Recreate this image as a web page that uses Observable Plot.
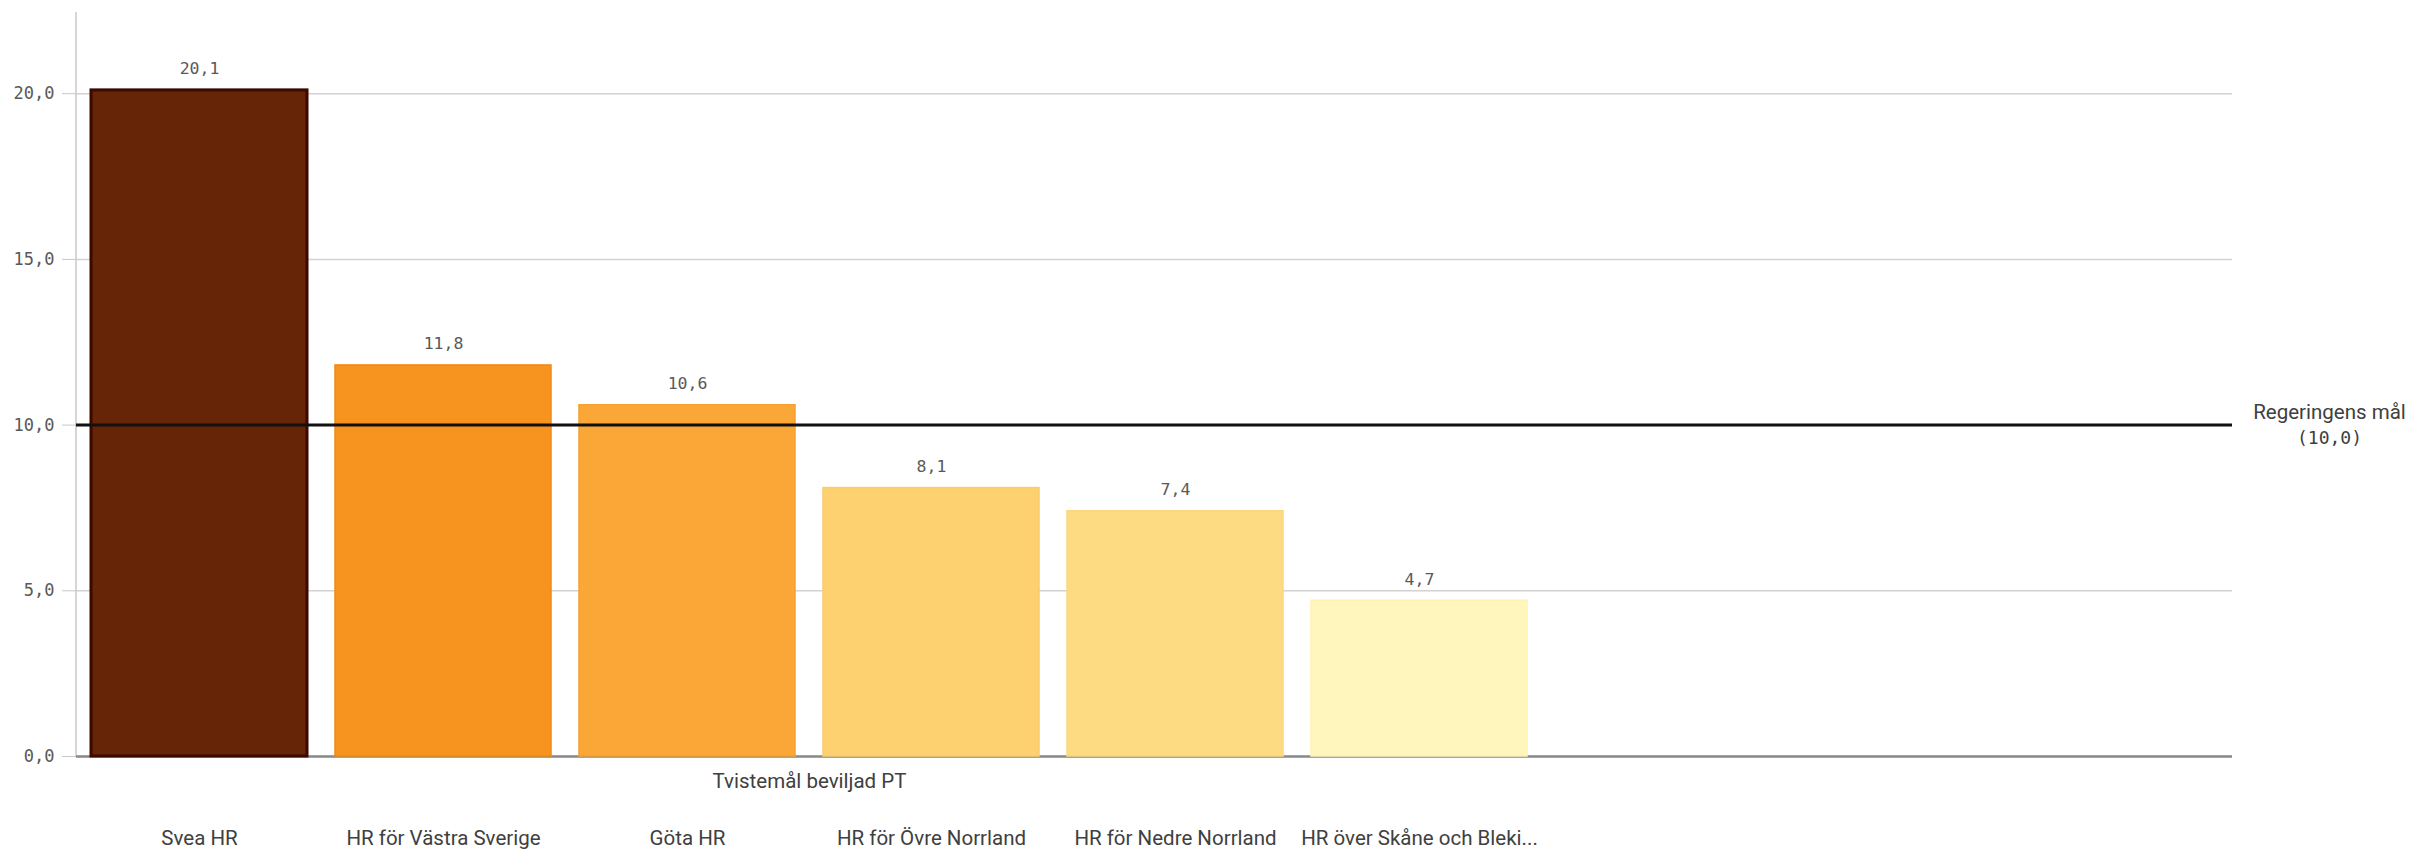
<!DOCTYPE html>
<html>
<head>
<meta charset="utf-8">
<script src="https://cdn.jsdelivr.net/npm/d3@7"></script>
<script src="https://cdn.jsdelivr.net/npm/@observablehq/plot@0.6"></script>
<style>
  html, body { margin: 0; padding: 0; background: #fff; }
  #chart svg { display: block; }
</style>
</head>
<body>
<div id="chart"></div>
<script>
// ---- data ----
const categories = ["Svea HR", "HR för Västra Sverige", "Göta HR", "HR för Övre Norrland", "HR för Nedre Norrland", "HR över Skåne och Bleki..."];
const values = [20.1, 11.8, 10.6, 8.1, 7.4, 4.7];
const fills = ["#662506", "#f7931f", "#fba737", "#fdd070", "#fddb83", "#fff6bd"];
const strokes = ["#3b0900", "#f08a16", "#f6a02d", "#fbcb68", "#fbd67c", "#fff2b3"];
const yTicks = [0, 5, 10, 15, 20];
const goal = 10;
const goalLabel = "Regeringens mål";
const dimensionLabel = "Tvistemål beviljad PT";

// ---- layout ----
const W = 2410, H = 852;
const mL = 76, mR = 178, mT = 12, mB = 96;
const xRange = [77, 1541];

const loc = d3.formatLocale({decimal: ",", thousands: " ", grouping: [3], currency: ["", " kr"]});
const f1 = loc.format(".1f");

const data = categories.map((c, i) => ({cat: c, value: values[i], fill: fills[i], stroke: strokes[i], sw: i === 0 ? 3 : 1.5}));

const frameCenter = (mL + W - mR) / 2;
const bandCenter = (xRange[0] + xRange[1]) / 2;

const mono = "DejaVu Sans Mono";
const sans = "Roboto";
const labelSize = 20.5;

const yAxisLine = (index, scales, values, dims) => {
  const g = d3.create("svg:line")
    .attr("x1", dims.marginLeft).attr("x2", dims.marginLeft)
    .attr("y1", dims.marginTop).attr("y2", dims.height - dims.marginBottom)
    .attr("stroke", "#c8c8c8").attr("stroke-width", 1.5);
  return g.node();
};

const chart = Plot.plot({
  width: W,
  height: H,
  marginLeft: mL,
  marginRight: mR,
  marginTop: mT,
  marginBottom: mB,
  style: {fontFamily: sans, background: "#fff"},
  x: {domain: categories, range: xRange, paddingInner: 0.115, paddingOuter: 0.0575, axis: null, label: null},
  y: {domain: [0, 22.45], axis: null, label: null},
  color: {type: "identity"},
  marks: [
    Plot.gridY(yTicks, {stroke: "#d2d2d2", strokeOpacity: 1, strokeWidth: 1.5}),
    yAxisLine,
    Plot.axisY({ticks: yTicks, tickFormat: f1, tickSize: 14, tickPadding: 8, stroke: "#c8c8c8", fill: "#595959", fontFamily: mono, fontSize: 17, label: null}),
    Plot.ruleY([0], {stroke: "#8a8a8a", strokeWidth: 2.5}),
    Plot.barY(data, {x: "cat", y: "value", fill: "fill", stroke: "stroke", strokeWidth: "sw", inset: 0}),
    Plot.ruleY([goal], {stroke: "#111", strokeWidth: 3}),
    Plot.text(data, {x: "cat", y: "value", text: d => f1(d.value), lineAnchor: "bottom", dy: -16, fill: "#595959", fontFamily: mono, fontSize: 16.5}),
    Plot.axisX({tickSize: 0, tickPadding: 74, fontSize: labelSize, fill: "#404040", fontFamily: sans, label: null}),
    Plot.text([dimensionLabel], {text: d => d, frameAnchor: "bottom", dx: bandCenter - frameCenter, dy: 25, lineAnchor: "middle", fontSize: labelSize, fill: "#404040", fontFamily: sans}),
    Plot.text([goal], {y: d => d, text: () => goalLabel, frameAnchor: "right", dx: 97, textAnchor: "middle", lineAnchor: "middle", dy: -13, fontSize: labelSize, fill: "#404040", fontFamily: sans}),
    Plot.text([goal], {y: d => d, text: d => "(" + f1(d) + ")", frameAnchor: "right", dx: 97, textAnchor: "middle", lineAnchor: "middle", dy: 13, fontSize: 18, fill: "#404040", fontFamily: mono})
  ]
});

document.getElementById("chart").appendChild(chart);
</script>
</body>
</html>
